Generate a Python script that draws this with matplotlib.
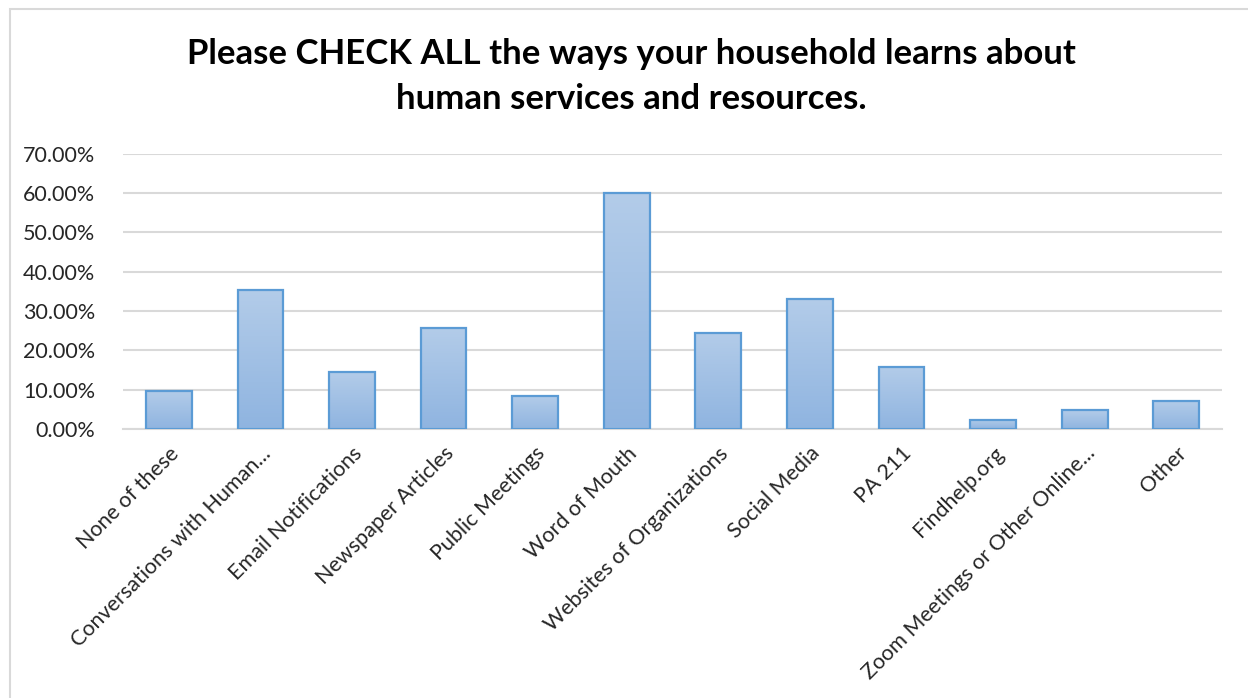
import numpy as np
import matplotlib
matplotlib.use('Agg')
import matplotlib.pyplot as plt
from matplotlib.patches import Rectangle
from matplotlib.colors import LinearSegmentedColormap

# Survey responses (share of households)
categories = [
    "None of these",
    "Conversations with Human...",
    "Email Notifications",
    "Newspaper Articles",
    "Public Meetings",
    "Word of Mouth",
    "Websites of Organizations",
    "Social Media",
    "PA 211",
    "Findhelp.org",
    "Zoom Meetings or Other Online...",
    "Other",
]
shares = [0.098, 0.354, 0.146, 0.256, 0.085, 0.599, 0.244, 0.330, 0.159, 0.024, 0.048, 0.073]
y_ticks = [0.0, 0.1, 0.2, 0.3, 0.4, 0.5, 0.6, 0.7]

plt.rcParams['font.family'] = ['Lato', 'DejaVu Sans']

fig = plt.figure(figsize=(12.48, 6.98), dpi=100)
ax = fig.add_axes([0.0986, 0.385, 0.8806, 0.395])

# chart frame (left and top edges)
fig.patches.append(Rectangle((10 / 1248, -0.1), 1.2, 1.1 - 9 / 698,
                             transform=fig.transFigure, fill=False,
                             edgecolor='#d9d9d9', linewidth=1.5))

x = np.arange(len(categories))
bars = ax.bar(x, shares, width=0.5, facecolor='none', edgecolor='#5b9bd5',
              linewidth=1.6, zorder=3)

# vertical gradient fill inside each bar
grad = LinearSegmentedColormap.from_list('barfill', ['#8fb4e0', '#b3cce9'])
gimg = np.linspace(0, 1, 256).reshape(-1, 1)
for b in bars:
    x0, w, h = b.get_x(), b.get_width(), b.get_height()
    im = ax.imshow(gimg, cmap=grad, origin='lower', aspect='auto',
                   extent=[x0, x0 + w, 0, h], zorder=2)
    im.set_clip_path(b)

ax.set_xlim(-0.5, len(categories) - 0.5)
ax.set_ylim(0, 0.7)
ax.set_yticks(y_ticks)
ax.set_yticklabels([f"{v * 100:.2f}%" for v in y_ticks], fontsize=15.5, color='#262626')
ax.set_xticks(x)
ax.set_xticklabels(categories, rotation=45, ha='right', rotation_mode='anchor',
                   fontsize=15.5, color='#262626')
ax.tick_params(length=0)
ax.tick_params(axis='y', pad=20)
ax.tick_params(axis='x', pad=10)
ax.yaxis.grid(True, color='#d9d9d9', linewidth=1.5, zorder=0)
ax.set_axisbelow(True)
for s in ['left', 'right', 'top']:
    ax.spines[s].set_visible(False)
ax.spines['bottom'].set_color('#d9d9d9')
ax.spines['bottom'].set_linewidth(1.5)

fig.text(0.506, 0.89, "Please CHECK ALL the ways your household learns about\nhuman services and resources.",
         ha='center', va='center', fontsize=25, fontweight='bold',
         linespacing=1.5, color='black')

fig.savefig('out.png', dpi=100, facecolor='white')
